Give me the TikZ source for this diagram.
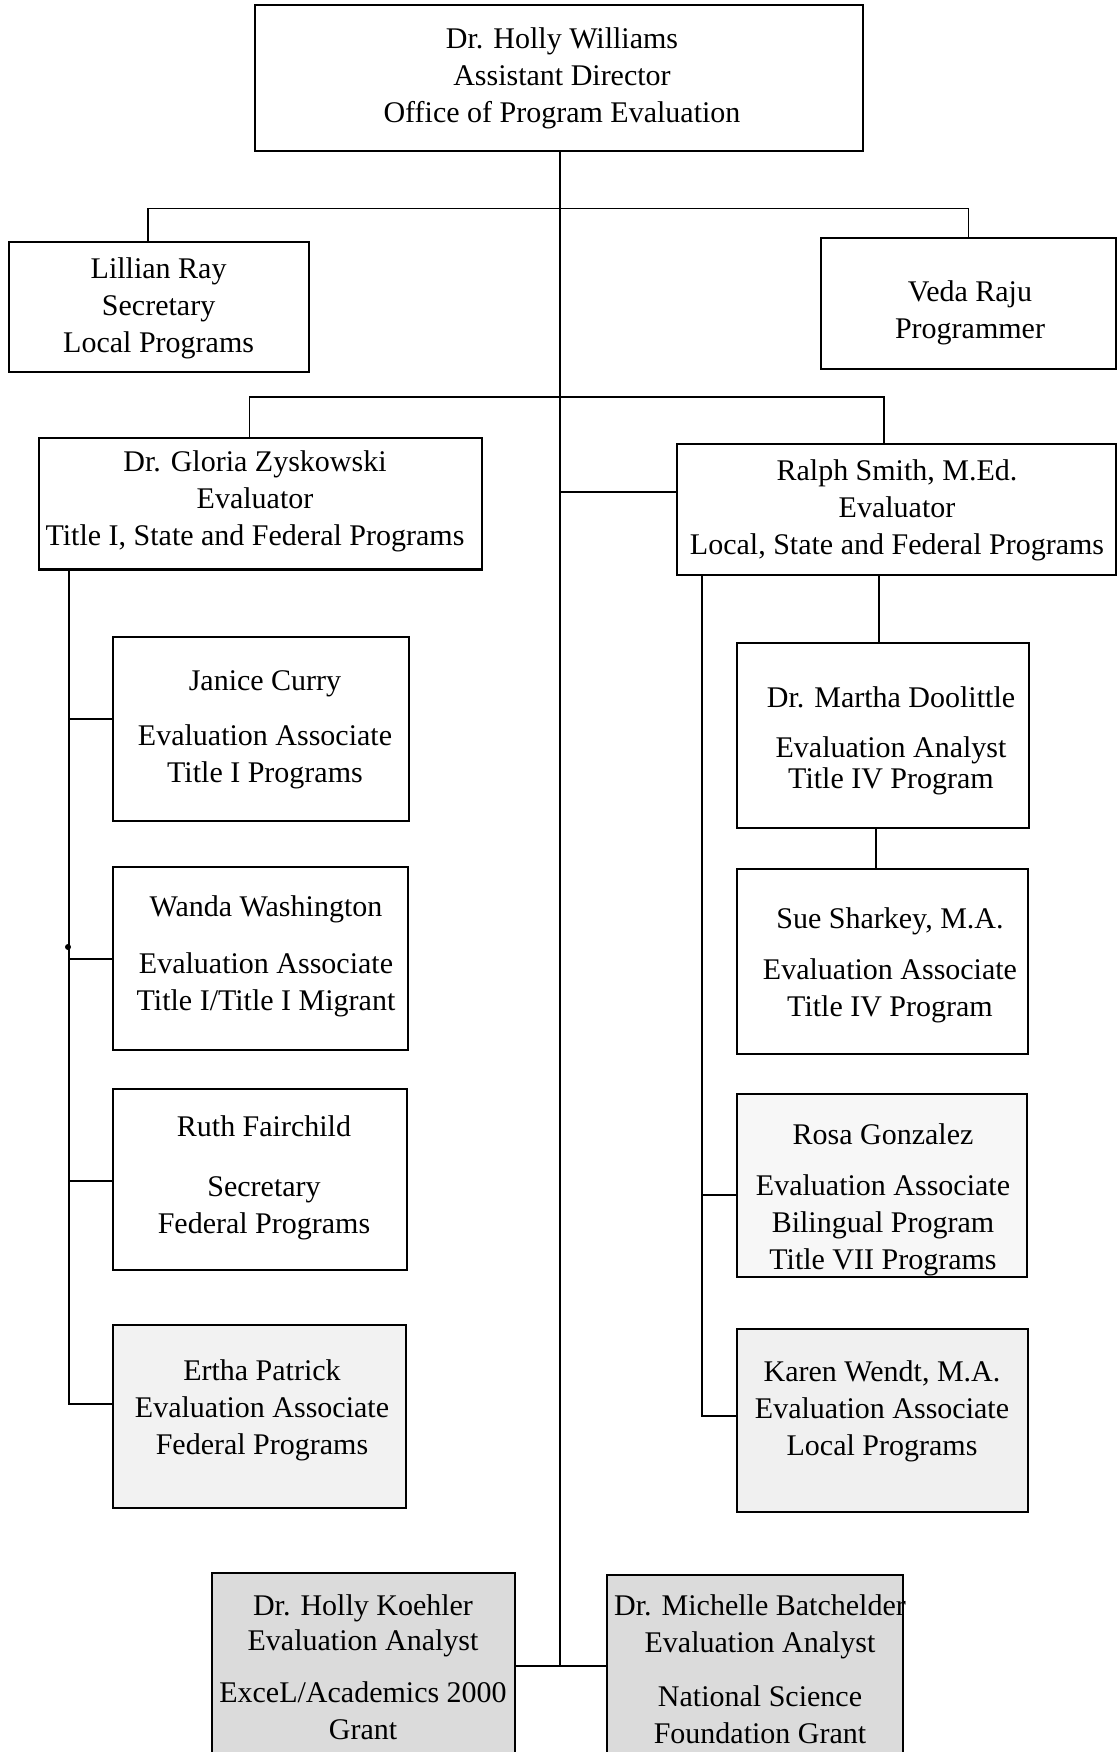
\documentclass[tikz,border=0pt]{standalone}
\usepackage{fontspec}
\setmainfont{Liberation Serif}
\begin{document}
\begin{tikzpicture}[x=1pt,y=-1pt,
  box/.style={draw=black, line width=2.2pt, rectangle, inner sep=0pt, outer sep=0pt},
  txt/.style={align=center, inner sep=0pt, font=\fontsize{30}{37}\selectfont},
  conn/.style={draw=black, line width=1.8pt}]
\useasboundingbox[fill=white] (0,0) rectangle (1118,1752);

% boxes
\node[box, minimum width=608pt, minimum height=146pt] (top) at (559,78) {};
\node[box, minimum width=300pt, minimum height=130pt] (lillian) at (159,307) {};
\node[box, minimum width=295pt, minimum height=131pt] (veda) at (968.5,303.5) {};
\node[box, minimum width=443pt, minimum height=131.5pt] (gloria) at (260.5,503.75) {};
\node[box, minimum width=439pt, minimum height=131pt] (ralph) at (896.5,509.5) {};
\node[box, minimum width=296pt, minimum height=184pt] (janice) at (261,729) {};
\node[box, minimum width=295pt, minimum height=183pt] (wanda) at (260.5,958.5) {};
\node[box, minimum width=294pt, minimum height=181pt] (ruth) at (260,1179.5) {};
\node[box, fill=black!5, minimum width=293pt, minimum height=183pt] (ertha) at (259.5,1416.5) {};
\node[box, minimum width=292pt, minimum height=185pt] (martha) at (883,735.5) {};
\node[box, minimum width=291pt, minimum height=185pt] (sue) at (882.5,961.5) {};
\node[box, fill=black!3, minimum width=290pt, minimum height=183pt] (rosa) at (882,1185.5) {};
\node[box, fill=black!6, minimum width=291pt, minimum height=183pt] (karen) at (882.5,1420.5) {};
\node[box, fill=black!14, minimum width=303pt, minimum height=197pt] (koehler) at (363.5,1671.5) {};
\node[box, fill=black!14, minimum width=296pt, minimum height=195pt] (batch) at (755,1672.5) {};

% texts
\node[txt] (ttop) at (562,78) {Dr. Holly Williams\\Assistant Director\\Office of Program Evaluation};
\node[txt] (tlillian) at (158.6,308.3) {Lillian Ray\\Secretary\\Local Programs};
\node[txt] (tveda) at (970,313.3) {Veda Raju\\Programmer};
\node[txt] (tgloria) at (255,501.8) {Dr. Gloria Zyskowski\\Evaluator\\Title I, State and Federal Programs};
\node[txt] (tralph) at (897,510.4) {Ralph Smith, M.Ed.\\Evaluator\\Local, State and Federal Programs};
\node[txt] (tjanice) at (265,729.4) {Janice Curry\\[18pt]Evaluation Associate\\Title I Programs};
\node[txt] (twanda) at (266,956) {Wanda Washington\\[20pt]Evaluation Associate\\Title I/Title I Migrant};
\node[txt] (truth) at (264,1177.8) {Ruth Fairchild\\[23pt]Secretary\\Federal Programs};
\node[txt] (tertha) at (262,1410.7) {Ertha Patrick\\Evaluation Associate\\Federal Programs};
\node[txt] (tmartha) at (891,741.1) {Dr. Martha Doolittle\\[13pt]Evaluation Analyst\\[-6pt]Title IV Program};
\node[txt] (tsue) at (890,965.6) {Sue Sharkey, M.A.\\[14pt]Evaluation Associate\\Title IV Program};
\node[txt] (trosa) at (883,1199.6) {Rosa Gonzalez\\[14pt]Evaluation Associate\\Bilingual Program\\Title VII Programs};
\node[txt] (tkaren) at (882,1411.3) {Karen Wendt, M.A.\\Evaluation Associate\\Local Programs};
\node[txt] (tkoehler) at (363,1667) {Dr. Holly Koehler\\[-2pt]Evaluation Analyst\\[15.5pt]ExceL/Academics 2000\\Grant};
\node[txt] (tbatch) at (760,1669.2) {Dr. Michelle Batchelder\\Evaluation Analyst\\[16.6pt]National Science\\Foundation Grant};

% junction coordinates
\coordinate (trunkA) at (560,208.6);
\coordinate (trunkB) at (560,397);
\coordinate (trunkC) at (560,492);
\coordinate (trunkD) at (560,1666);
\coordinate (gl) at (69,569.5);
\coordinate (gend) at (69,1404);
\coordinate (rl) at (702,575);
\coordinate (rend) at (702,1416);
\coordinate (rtop) at (884,397);

% connectors
\draw[conn] (top.south -| trunkA) -- (trunkD);
\draw[conn] (lillian.north) ++(-11,0) coordinate (lt) -- (lt |- trunkA) -- (trunkA -| veda.north) -- (veda.north);
\draw[conn] (gloria.north) ++(-11,0) coordinate (gt) -- (gt |- trunkB) -- (rtop) -- (rtop |- ralph.north);
\draw[conn] (trunkC) -- (trunkC -| ralph.west);
\draw[conn] (koehler.east |- trunkD) -- (batch.west |- trunkD);
% Gloria's staff
\draw[conn] (gl) -- (gend) -- (gend -| ertha.west);
\draw[conn] (gl |- janice.west) ++(0,-10) coordinate (jc) -- (jc -| janice.west);
\draw[conn] (69,959) -- (wanda.west |- 0,959);
\draw[conn] (69,1181) -- (ruth.west |- 0,1181);
\fill (68,947) circle (3pt);
% Ralph's staff
\draw[conn] (rl) -- (rend) -- (rend -| karen.west);
\draw[conn] (702,1195) -- (rosa.west |- 0,1195);
\draw[conn] (879,575) -- (879,643);
\draw[conn] (876,828) -- (876,869);
\end{tikzpicture}
\end{document}
